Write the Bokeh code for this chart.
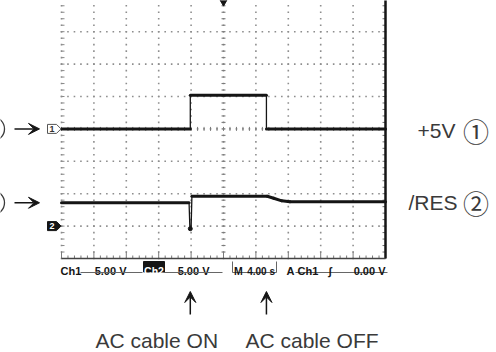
import numpy as np
from bokeh.plotting import figure
from bokeh.models import Range1d, Arrow, VeeHead
from bokeh.embed import file_html
from bokeh.resources import INLINE
from bokeh.core.properties import value

# ---------------- data ----------------
time_ch1 = [0.0, 15.9, 15.9, 25.3, 25.3, 40.0]          # s
volt_ch1 = [0.0, 0.0, 5.2, 5.2, 0.0, 0.0]               # V
time_ch2 = [0.0, 15.75, 15.85, 16.0, 16.1, 25.4, 26.2, 27.2, 28.2, 40.0]
volt_ch2 = [3.6, 3.6, -0.4, -0.4, 4.6, 4.6, 4.3, 3.9, 3.75, 3.75]
event_times = [15.9, 25.3]
event_labels = ["AC cable ON", "AC cable OFF"]
channel_names = ["+5V", "/RES"]
channel_circled = ["\u2460", "\u2461"]
channel_marks = ["1", "2"]
readout_scale = ["5.00 V", "5.00 V"]
readout_time = "4.00 s"
readout_trig = ["A", "Ch1", "\u222B", "0.00 V"]

SEC_PER_DIV = 4.0
VOLT_PER_DIV = 5.0
N_HDIV, N_VDIV = 10, 8
CH_POS = [4.0, 1.0]          # ground positions in divisions

# ---------------- layout (page pixels -> data) ----------------
PX_LEFT, PX_BOTTOM, PX_DIV = 61.0, 258.0, 32.4
W, H = 496, 352
SX = PX_DIV / SEC_PER_DIV


def X(px):
    return (px - PX_LEFT) / SX


def Y(py):
    return (PX_BOTTOM - py) / PX_DIV


T_END = N_HDIV * SEC_PER_DIV
GRID = "#8e8e8e"
INK = "#151515"
TXT = "#3a3a3a"

p = figure(width=W, height=H, output_backend="svg", toolbar_location=None,
           x_range=Range1d(X(0), X(W)), y_range=Range1d(Y(H), Y(0)),
           min_border=0)
p.axis.visible = False
p.grid.visible = False
p.outline_line_color = None
p.background_fill_color = "white"

# ---- dotted graticule (dots every 1/5 division) ----
sub_d = np.arange(0, N_VDIV * 5 + 1) * 0.2
sub_t = np.arange(0, N_HDIV * 5 + 1) * SEC_PER_DIV / 5
tv = np.arange(0, N_HDIV) * SEC_PER_DIV
dv = np.arange(1, N_VDIV + 1)
gx1, gy1 = np.meshgrid(tv, sub_d)
gx2, gy2 = np.meshgrid(sub_t, dv)
p.scatter(np.concatenate([gx1.ravel(), gx2.ravel()]),
          np.concatenate([gy1.ravel(), gy2.ravel()]),
          marker="square", size=1.6, line_width=0, fill_color=GRID)

# ---- centre-line ticks ----
tc = T_END / 2
dc = N_VDIV / 2
p.segment(x0=tc - 2 / SX, y0=sub_d, x1=tc + 2 / SX, y1=sub_d, line_color="#7a7a7a", line_width=1)
p.segment(x0=sub_t, y0=dc - 2 / PX_DIV, x1=sub_t, y1=dc + 2 / PX_DIV, line_color="#7a7a7a", line_width=1)
# edge ticks
p.segment(x0=0, y0=sub_d, x1=3 / SX, y1=sub_d, line_color="#8a8a8a", line_width=1)
p.segment(x0=T_END - 3 / SX, y0=sub_d, x1=T_END, y1=sub_d, line_color="#707070", line_width=1)
tick_len = np.where(np.arange(len(sub_t)) % 5 == 0, 7, 3) / PX_DIV
p.segment(x0=sub_t, y0=0, x1=sub_t, y1=tick_len, line_color="#7a7a7a", line_width=1)
# screen frame (right and bottom) and trigger mark at top
p.segment(x0=[T_END], y0=[0], x1=[T_END], y1=[N_VDIV + 1], line_color=INK, line_width=2.5)
p.segment(x0=[0], y0=[0], x1=[T_END], y1=[0], line_color="#444", line_width=1.3)
p.scatter([tc], [Y(1.5)], marker="inverted_triangle", size=7, color=INK)


# ---- traces: thin line everywhere, thick where the trace dwells ----
def draw_trace(t, v, pos):
    t = np.asarray(t)
    y = pos + np.asarray(v) / VOLT_PER_DIV
    p.line(t, y, line_color=INK, line_width=1.3)
    slow = np.diff(t) > 0.3
    p.segment(x0=t[:-1][slow], y0=y[:-1][slow], x1=t[1:][slow], y1=y[1:][slow],
              line_color=INK, line_width=3, line_cap="round")
    return y


y1 = draw_trace(time_ch1, volt_ch1, CH_POS[0])
y2 = draw_trace(time_ch2, volt_ch2, CH_POS[1])
p.scatter([time_ch2[2] + 0.05], [y2[2]], size=4, color=INK)

# ---- ground markers ----
hh = 4.5 / PX_DIV
for i, pos in enumerate(CH_POS):
    xs = [X(47), X(56), X(60.5), X(56), X(47)]
    ys = [pos + hh, pos + hh, pos, pos - hh, pos - hh]
    if i == 0:
        p.patch(xs, ys, fill_color="white", line_color="#555", line_width=1)
        col = "#333"
    else:
        p.patch(xs, ys, fill_color=INK, line_color=INK, line_width=1)
        col = "white"
    p.text(x=[X(51.5)], y=[pos], text=[channel_marks[i]], text_align="center",
           text_baseline="middle", text_font=value("Liberation Sans"),
           text_font_size="9px", text_font_style="bold", text_color=col)

# ---- left arrows (with the cut-off circled numbers at the page edge) ----
arrow_y = [CH_POS[0] + volt_ch1[0] / VOLT_PER_DIV, CH_POS[1] + volt_ch2[0] / VOLT_PER_DIV]
p.scatter([X(-8), X(-8)], arrow_y, marker="circle", size=24, fill_color=None,
          line_color=TXT, line_width=1.3)
for ay in arrow_y:
    p.add_layout(Arrow(x_start=X(14), y_start=ay, x_end=X(39), y_end=ay,
                       line_color=INK, line_width=1.5,
                       end=VeeHead(size=11, fill_color=INK, line_color=INK)))

# ---- right channel labels ----
p.text(x=[X(417), X(408)], y=[Y(130), Y(202)], text=channel_names,
       text_align="left", text_baseline="middle",
       text_font=value("Liberation Sans"), text_font_size="21px", text_color=TXT)
p.text(x=[X(475.5), X(475.5)], y=[Y(130), Y(202)], text=channel_circled,
       text_align="center", text_baseline="middle",
       text_font=value("Noto Sans CJK JP"), text_font_size="26px", text_color=TXT)

# ---- bottom event arrows and labels ----
for t in event_times:
    p.add_layout(Arrow(x_start=t, y_start=Y(314), x_end=t, y_end=Y(291),
                       line_color=INK, line_width=1.5,
                       end=VeeHead(size=11, fill_color=INK, line_color=INK)))
p.text(x=[X(95), X(245)], y=[Y(340), Y(340)], text=event_labels,
       text_align="left", text_baseline="alphabetic",
       text_font=value("Liberation Sans"), text_font_size="21px", text_color=TXT)

# ---- readout row ----
RF = value("Liberation Sans")
RS = "11px"
yb = Y(270.5)
p.text(x=[X(60)], y=[yb], text=["Ch1"], text_font=RF, text_font_size=RS,
       text_font_style="bold", text_color=INK, text_baseline="alphabetic")
p.quad(left=[X(143)], right=[X(164)], bottom=[Y(271.5)], top=[Y(261)], color=INK)
p.text(x=[X(153.5)], y=[yb], text=["Ch2"], text_font=RF, text_font_size="10.5px",
       text_font_style="bold", text_color="white", text_align="center",
       text_baseline="alphabetic")
p.text(x=[X(126), X(209)], y=[yb, yb], text=readout_scale, text_font=RF,
       text_font_size=RS, text_font_style="bold", text_color=INK,
       text_align="right", text_baseline="alphabetic")
p.segment(x0=[X(80), X(163), X(232), X(295)], y0=Y(272),
          x1=[X(142), X(222), X(276), X(387)], y1=Y(272), line_color="#666", line_width=1)
p.segment(x0=[X(232), X(276)], y0=Y(272), x1=[X(232), X(276)], y1=Y(261),
          line_color="#666", line_width=1)
p.text(x=[X(233.5)], y=[yb], text=["M"], text_font=RF, text_font_size="10.5px",
       text_font_style="bold", text_color=INK, text_baseline="alphabetic")
p.text(x=[X(274.5)], y=[yb], text=[readout_time], text_font=RF, text_font_size="10px",
       text_font_style="bold", text_color=INK, text_align="right",
       text_baseline="alphabetic")
p.text(x=[X(286), X(297), X(328)], y=[yb, yb, yb], text=readout_trig[:3], text_font=RF,
       text_font_size=RS, text_font_style="bold", text_color=INK,
       text_baseline="alphabetic")
p.text(x=[X(385)], y=[yb], text=[readout_trig[3]], text_font=RF, text_font_size=RS,
       text_font_style="bold", text_color=INK, text_align="right",
       text_baseline="alphabetic")

open("out.html", "w").write(file_html(p, INLINE))
